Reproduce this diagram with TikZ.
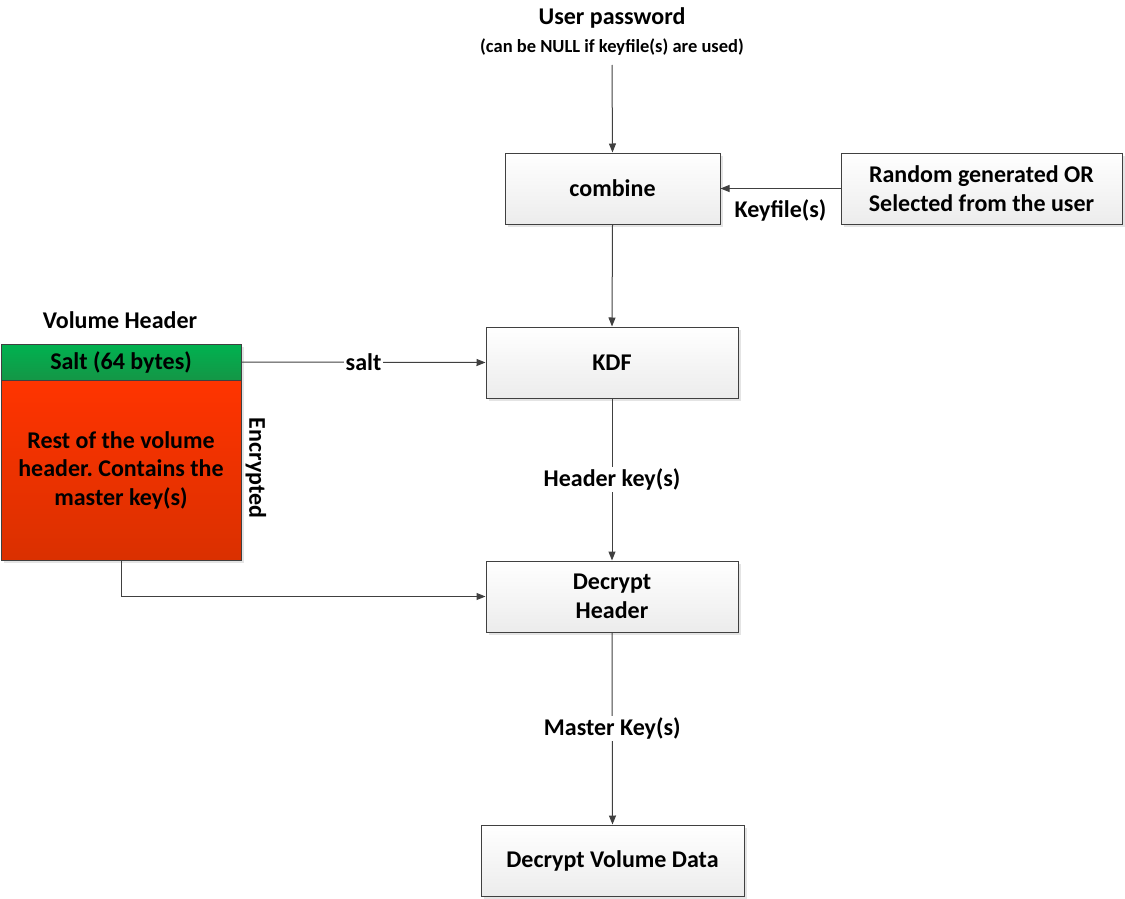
\documentclass[tikz,border=0pt]{standalone}
\usepackage{fontspec}
\setmainfont{Carlito}
\usetikzlibrary{arrows.meta,shadows}
\definecolor{edge}{HTML}{404040}
\frenchspacing
\begin{document}
\begin{tikzpicture}[x=1pt,y=-1pt,
  every node/.style={font=\bfseries\fontsize{24}{28.5}\selectfont, text=black},
  procbox/.style={draw=edge, line width=1pt, top color=white, bottom color=gray!15,
    shading angle=0, drop shadow={shadow xshift=3pt, shadow yshift=-3pt, fill=gray!35, opacity=0.6},
    align=center, inner sep=0pt},
  conn/.style={draw=edge, line width=1pt, -{Triangle[length=9pt,width=7pt]}},
  lbl/.style={fill=white, inner sep=2pt}]
\useasboundingbox (0,0) rectangle (1125,899);

% texts at top
\node (pw) at (612,18) {User password};
\node[font=\bfseries\fontsize{18.5}{22}\selectfont] (pwsub) at (612,47) {(can be NULL if keyfile(s) are used)};
\coordinate (pwend) at (612,65);

% boxes
\node[procbox, minimum width=215pt, minimum height=71pt] (comb) at (612.5,188.5) {combine};
\node[procbox, minimum width=281pt, minimum height=71pt] (rand) at (981.5,188.5) {Random generated OR\\Selected from the user};
\node[procbox, minimum width=252pt, minimum height=71pt] (kdf) at (612,362.5) {KDF};
\node[procbox, minimum width=252pt, minimum height=71pt] (dh) at (612,596.5) {Decrypt\\Header};
\node[procbox, minimum width=263pt, minimum height=71pt] (dvd) at (612.5,860.5) {Decrypt Volume Data};

% volume header
\node (vhl) at (120,320) {Volume Header};
\node[draw=edge, line width=1pt, fill=white, minimum width=240pt, minimum height=216pt,
  drop shadow={shadow xshift=3pt, shadow yshift=-3pt, fill=gray!35, opacity=0.6}] (vhshadow) at (121,452) {};
\node[draw=edge, line width=1pt, top color={rgb,255:red,0;green,178;blue,80}, bottom color={rgb,255:red,20;green,150;blue,70},
  minimum width=240pt, minimum height=36pt, inner sep=0pt] (salt) at (121,362) {Salt (64 bytes)};
\node[draw=edge, line width=1pt, top color={rgb,255:red,255;green,52;blue,0}, bottom color={rgb,255:red,218;green,48;blue,0},
  minimum width=240pt, minimum height=180pt, inner sep=0pt, align=center] (rest) at (121,470) {Rest of the volume\\header. Contains the\\master key(s)};
\node[rotate=-90] (enc) at (256,468) {Encrypted};

% connectors
\draw[conn] (pwend) -- (comb.north);
\draw[conn] (comb.south) -- (kdf.north);
\draw[conn] (rand.west) -- (comb.east) node[pos=0.5, below=7pt] (kf) {Keyfile(s)};
\draw[conn] (salt.east) -- (kdf.west) node[pos=0.5, lbl] (sl) {salt};
\draw[conn] (kdf.south) -- (dh.north) node[pos=0.5, lbl] (hk) {Header key(s)};
\draw[conn] (rest.south) |- (dh.west);
\draw[conn] (dh.south) -- (dvd.north) node[pos=0.5, lbl] (mk) {Master Key(s)};
\end{tikzpicture}
\end{document}
